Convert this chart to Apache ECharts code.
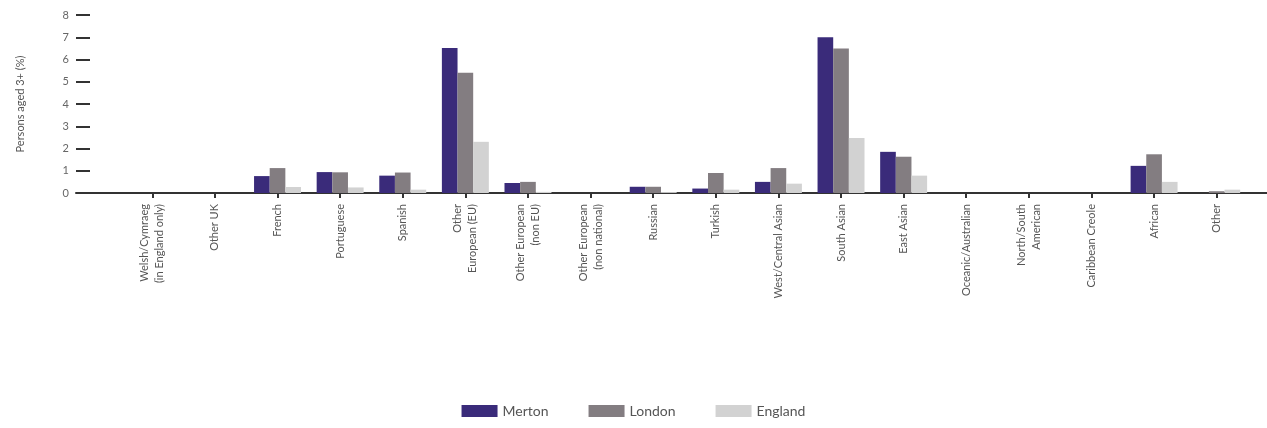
<!DOCTYPE html>
<html>
<head>
<meta charset="utf-8">
<script src="https://cdn.jsdelivr.net/npm/echarts@6/dist/echarts.min.js"></script>
<style>
  html, body { margin: 0; padding: 0; background: #fff; }
  #main { width: 1267px; height: 428px; }
</style>
</head>
<body>
<div id="main"></div>
<script>
// languages spoken (main language), persons aged 3+
const categories = [
  'Welsh/Cymraeg\n(in England only)', 'Other UK', 'French', 'Portuguese', 'Spanish',
  'Other\nEuropean (EU)', 'Other European\n(non EU)', 'Other European\n(non national)',
  'Russian', 'Turkish', 'West/Central Asian', 'South Asian', 'East Asian',
  'Oceanic/Australian', 'North/South\nAmerican', 'Caribbean Creole', 'African', 'Other'
];
const merton  = [0, 0, 0.76, 0.94, 0.78, 6.52, 0.45, 0, 0.28, 0.2, 0.5, 7.0, 1.85, 0, 0, 0, 1.22, 0];
const london  = [0, 0, 1.12, 0.93, 0.92, 5.4, 0.5, 0, 0.28, 0.9, 1.12, 6.5, 1.63, 0, 0, 0, 1.74, 0.08];
const england = [0, 0, 0.27, 0.25, 0.15, 2.3, 0.05, 0, 0.04, 0.15, 0.42, 2.47, 0.78, 0, 0, 0, 0.5, 0.15];
const yTicks = { min: 0, max: 8, interval: 1 };

const chart = echarts.init(document.getElementById('main'));
const font = 'Lato, "Open Sans", sans-serif';

chart.setOption({
  animation: false,
  textStyle: { fontFamily: font },
  color: ['#3a2b7a', '#837d81', '#d2d2d2'],
  legend: {
    bottom: 5,
    left: 'center',
    itemWidth: 36,
    itemHeight: 12,
    itemGap: 40,
    icon: 'rect',
    textStyle: { fontSize: 14, color: '#555', fontFamily: font }
  },
  grid: [
    { left: 121, right: 19, top: 15, bottom: 235 },
    { left: 76, right: 0, top: 15, bottom: 235 }
  ],
  xAxis: [
    {
      type: 'category',
      gridIndex: 0,
      data: categories,
      axisLine: { show: true, lineStyle: { color: '#333', width: 2 } },
      axisTick: { show: true, alignWithLabel: true, length: 5, lineStyle: { color: '#333', width: 2 } },
      axisLabel: { rotate: 90, interval: 0, margin: 11, fontSize: 11, color: '#555', lineHeight: 15, fontFamily: font }
    },
    {
      type: 'value',
      gridIndex: 1,
      min: 0, max: 1,
      axisLine: { show: true, lineStyle: { color: '#333', width: 2 } },
      axisTick: { show: false },
      axisLabel: { show: false },
      splitLine: { show: false }
    }
  ],
  yAxis: [
    {
      type: 'value',
      gridIndex: 0,
      min: yTicks.min, max: yTicks.max, interval: yTicks.interval,
      show: false
    },
    {
      type: 'value',
      gridIndex: 1,
      min: yTicks.min, max: yTicks.max, interval: yTicks.interval,
      name: 'Persons aged 3+ (%)',
      nameLocation: 'middle',
      nameGap: 50,
      nameTextStyle: { fontSize: 11, color: '#555', fontFamily: font },
      axisLine: { show: false },
      axisTick: { show: true, inside: true, length: 14, lineStyle: { color: '#333', width: 2 } },
      axisLabel: { fontSize: 11, color: '#666', margin: 7, fontFamily: font },
      splitLine: { show: false }
    }
  ],
  series: [
    { name: 'Merton', type: 'bar', data: merton, barGap: '0%', barCategoryGap: '25%' },
    { name: 'London', type: 'bar', data: london, barGap: '0%', barCategoryGap: '25%' },
    { name: 'England', type: 'bar', data: england, barGap: '0%', barCategoryGap: '25%' }
  ]
});
</script>
</body>
</html>
